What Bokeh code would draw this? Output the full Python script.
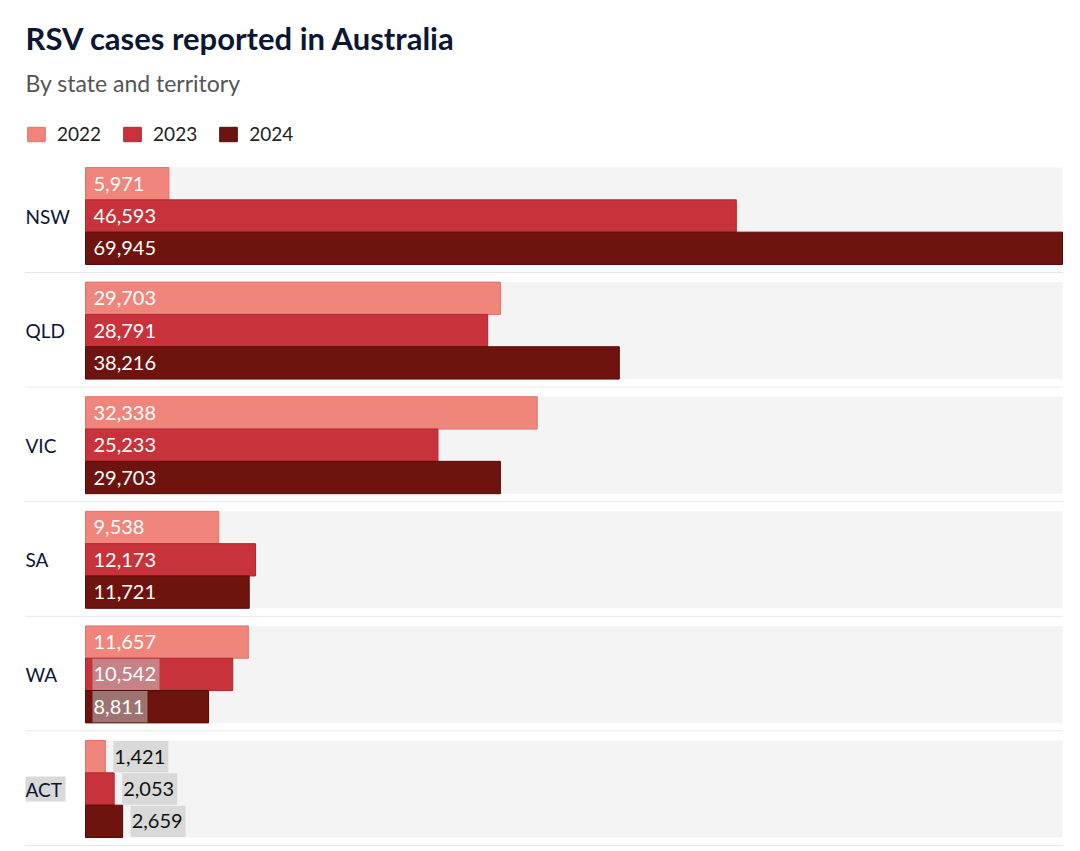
from bokeh.plotting import figure
from bokeh.models import ColumnDataSource, Range1d, Label, Legend, LegendItem
from bokeh.transform import dodge
from bokeh.core.properties import value
from bokeh.embed import file_html
from bokeh.resources import INLINE

# ---------------- data ----------------
states = ["NSW", "QLD", "VIC", "SA", "WA", "ACT"]
years = ["2022", "2023", "2024"]
cases_2022 = [5971, 29703, 32338, 9538, 11657, 1421]
cases_2023 = [46593, 28791, 25233, 12173, 10542, 2053]
cases_2024 = [69945, 38216, 29703, 11721, 8811, 2659]
title_text = "RSV cases reported in Australia"
subtitle_text = "By state and territory"

# ---------------- style ----------------
colors = {"2022": "#f0857c", "2023": "#c8323a", "2024": "#6e130d"}
edges = {"2022": "#e8706a", "2023": "#b52530", "2024": "#560a06"}
FONT = "Lato"
W, H = 1072, 848
LEFT_PX, RIGHT_PX = 85, 1062      # x of value 0 and of max value inside figure
TEXT_LEFT = 25
ROW0_PX, PITCH = 215.5, 114.6     # y of first row centre, row pitch
BAR_H = 0.282                     # in row units
BAND_H = 0.846
SEP = 0.493

xmax = max(cases_2024 + cases_2023 + cases_2022)
k = (RIGHT_PX - LEFT_PX) / xmax
x_range = Range1d(-LEFT_PX / k, (W - LEFT_PX) / k)
y_range = Range1d((H - ROW0_PX) / PITCH, -ROW0_PX / PITCH)   # flipped: first state on top

p = figure(width=W, height=H, x_range=x_range, y_range=y_range,
           output_backend="svg", toolbar_location=None,
           min_border=0, min_border_left=0, min_border_right=0,
           min_border_top=0, min_border_bottom=0)
p.axis.visible = False
p.grid.visible = False
p.outline_line_color = None
p.background_fill_color = "white"
p.border_fill_color = "white"

idx = list(range(len(states)))
src = ColumnDataSource(dict(
    y=idx, state=states, zero=[0] * len(states), full=[xmax] * len(states),
    left_edge=[-(LEFT_PX - TEXT_LEFT) / k] * len(states),
    c2022=cases_2022, c2023=cases_2023, c2024=cases_2024,
    l2022=[f"{v:,}" for v in cases_2022],
    l2023=[f"{v:,}" for v in cases_2023],
    l2024=[f"{v:,}" for v in cases_2024],
))


def text_px(s):
    """rough rendered width of a numeric label in px"""
    return sum(12 if c.isdigit() else 5 for c in s) + 2


# background bands
p.hbar(y="y", left="zero", right="full", height=BAND_H, source=src,
       fill_color="#f4f4f4", line_color=None)

# dotted separators below each row
p.segment(x0="left_edge", x1="full", y0=dodge("y", SEP), y1=dodge("y", SEP),
          source=src, line_color="#cfcfcf", line_width=1, line_dash="1 1")

offsets = {"2022": -BAR_H, "2023": 0.0, "2024": BAR_H}
renderers = {}
for yr in years:
    r = p.hbar(y=dodge("y", offsets[yr]), left=0, right="c" + yr, height=BAR_H,
               source=src, fill_color=colors[yr], line_color=edges[yr],
               line_width=1)
    renderers[yr] = r

# value labels
threshold = 4000  # labels that do not fit inside the bar go outside
for yr in years:
    vals = src.data["c" + yr]
    labs = src.data["l" + yr]
    inside = [i for i, v in enumerate(vals) if v >= threshold]
    outside = [i for i, v in enumerate(vals) if v < threshold]
    shaded = [i for i in inside if states[i] == "WA" and yr != "2022"]
    plain = [i for i in inside if i not in shaded]
    if plain:
        s = ColumnDataSource(dict(y=[i + offsets[yr] for i in plain],
                                  x=[0] * len(plain),
                                  t=[labs[i] for i in plain]))
        p.text(x="x", y="y", text="t", source=s, x_offset=8,
               text_font=value(FONT), text_font_size="20px", text_color="white",
               text_baseline="middle", text_align="left")
    if shaded:
        s = ColumnDataSource(dict(y=[i + offsets[yr] for i in shaded],
                                  x=[0] * len(shaded),
                                  left=[7 / k] * len(shaded),
                                  right=[(7 + text_px(labs[i])) / k for i in shaded],
                                  t=[labs[i] for i in shaded]))
        p.hbar(y="y", left="left", right="right", height=BAR_H * 0.97, source=s,
               fill_color="#c4c4c4", fill_alpha=0.55, line_color=None)
        p.text(x="x", y="y", text="t", source=s, x_offset=8,
               text_font=value(FONT), text_font_size="20px", text_color="white",
               text_baseline="middle", text_align="left")
    if outside:
        s = ColumnDataSource(dict(y=[i + offsets[yr] for i in outside],
                                  x=[vals[i] for i in outside],
                                  left=[vals[i] + 8 / k for i in outside],
                                  right=[vals[i] + (8 + text_px(labs[i])) / k for i in outside],
                                  t=[labs[i] for i in outside]))
        p.hbar(y="y", left="left", right="right", height=BAR_H * 0.97, source=s,
               fill_color="#d9d9d9", line_color=None)
        p.text(x="x", y="y", text="t", source=s, x_offset=9,
               text_font=value(FONT), text_font_size="20px", text_color="#111111",
               text_baseline="middle", text_align="left")

# state labels
norm = [i for i, s_ in enumerate(states) if s_ != "ACT"]
hl = [i for i, s_ in enumerate(states) if s_ == "ACT"]
s_norm = ColumnDataSource(dict(y=[idx[i] for i in norm], x=[0] * len(norm),
                               t=[states[i] for i in norm]))
p.text(x="x", y="y", text="t", source=s_norm, x_offset=-(LEFT_PX - TEXT_LEFT),
       text_font=value(FONT), text_font_size="19px", text_color="#0d1633",
       text_baseline="middle", text_align="left")
s_hl = ColumnDataSource(dict(y=[idx[i] for i in hl], x=[0] * len(hl),
                             left=[-(LEFT_PX - TEXT_LEFT) / k] * len(hl),
                             right=[-(LEFT_PX - TEXT_LEFT - 40) / k] * len(hl),
                             t=[states[i] for i in hl]))
p.hbar(y="y", left="left", right="right", height=25 / PITCH, source=s_hl,
       fill_color="#d9d9d9", line_color=None)
p.text(x="x", y="y", text="t", source=s_hl, x_offset=-(LEFT_PX - TEXT_LEFT),
       text_font=value(FONT), text_font_size="19px", text_color="#0d1633",
       text_baseline="middle", text_align="left")

# title & subtitle
p.add_layout(Label(x=TEXT_LEFT, y=H - 37, x_units="screen", y_units="screen",
                   text=title_text, text_font=FONT, text_font_size="31px",
                   text_font_style="bold", text_color="#0d1633",
                   text_baseline="middle"))
p.add_layout(Label(x=TEXT_LEFT, y=H - 82, x_units="screen", y_units="screen",
                   text=subtitle_text, text_font=FONT, text_font_size="23px",
                   text_color="#555555", text_baseline="middle"))

# legend
legend = Legend(items=[LegendItem(label=yr, renderers=[renderers[yr]]) for yr in years],
                orientation="horizontal", location=(TEXT_LEFT, H - 145),
                glyph_width=22, glyph_height=18, label_standoff=10, spacing=20,
                label_text_font=FONT, label_text_font_size="19px",
                label_text_color="#222222", background_fill_alpha=0,
                border_line_color=None, padding=0, margin=0,
                label_height=18)
p.add_layout(legend)

open("out.html", "w").write(file_html(p, INLINE))
